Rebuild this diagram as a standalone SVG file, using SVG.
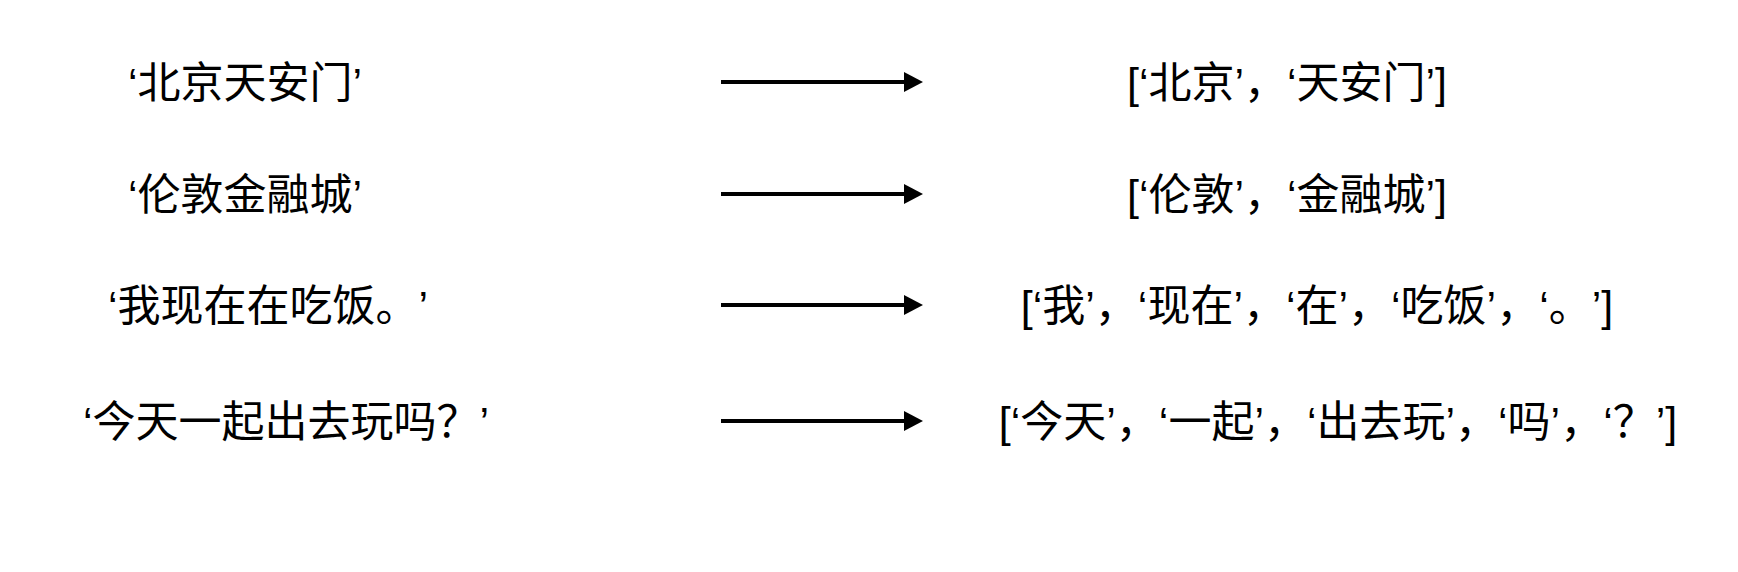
<svg xmlns="http://www.w3.org/2000/svg" width="1738" height="572" viewBox="0 0 1738 572">
  <style>
    .t { font-family: "Liberation Sans", "Noto Sans CJK SC", sans-serif; font-size: 43px; fill: #000; text-anchor: middle; text-spacing-trim: space-all; }
    .c { stroke: #000; stroke-width: 4; fill: none; }
  </style>
  <defs>
    <marker id="ah" markerUnits="userSpaceOnUse" markerWidth="19" markerHeight="20" refX="2" refY="10" orient="auto">
      <path d="M0,0 L19,10 L0,20 Z" fill="#000"/>
    </marker>
  </defs>
  <rect width="1738" height="572" fill="#fff"/>
  <g id="src1"><text class="t" x="245" y="98">‘北京天安门’</text></g>
  <g id="src2"><text class="t" x="245" y="210">‘伦敦金融城’</text></g>
  <g id="src3"><text class="t" x="268" y="321">‘我现在在吃饭。’</text></g>
  <g id="src4"><text class="t" x="286" y="437">‘今天一起出去玩吗？’</text></g>
  <g id="out1"><text class="t" x="1287" y="98">[‘北京’，‘天安门’]</text></g>
  <g id="out2"><text class="t" x="1287" y="210">[‘伦敦’，‘金融城’]</text></g>
  <g id="out3"><text class="t" x="1317" y="321">[‘我’，‘现在’，‘在’，‘吃饭’，‘。’]</text></g>
  <g id="out4"><text class="t" x="1338" y="437">[‘今天’，‘一起’，‘出去玩’，‘吗’，‘？’]</text></g>
  <g id="connectors">
    <line class="c" x1="721" y1="82" x2="906" y2="82" marker-end="url(#ah)"/>
    <line class="c" x1="721" y1="194" x2="906" y2="194" marker-end="url(#ah)"/>
    <line class="c" x1="721" y1="305" x2="906" y2="305" marker-end="url(#ah)"/>
    <line class="c" x1="721" y1="421" x2="906" y2="421" marker-end="url(#ah)"/>
  </g>
</svg>
